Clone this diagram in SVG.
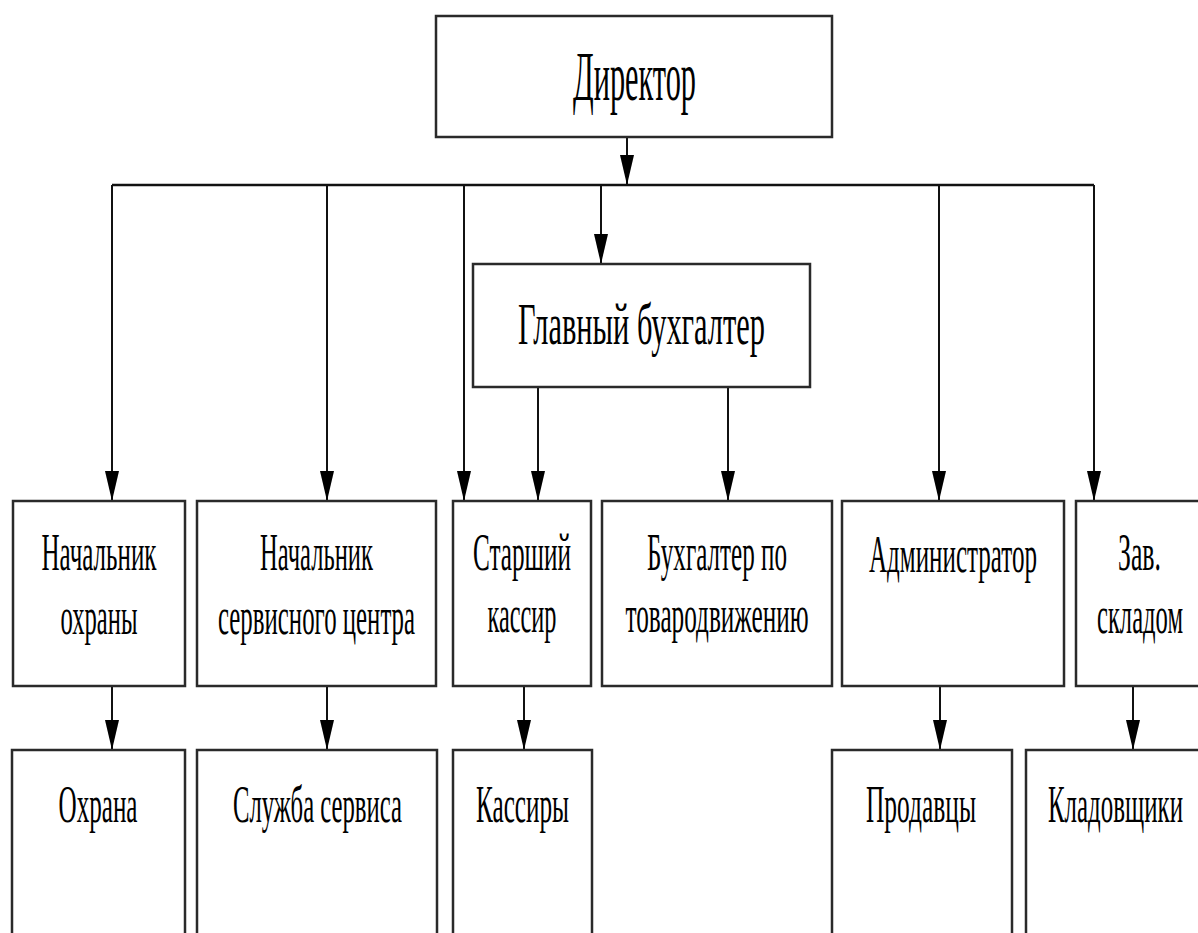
<svg xmlns="http://www.w3.org/2000/svg" width="1198" height="933" viewBox="0 0 1198 933">
<style>
.box{fill:#fff;stroke:#2a2a2a;stroke-width:2.5}
.ln{fill:none;stroke:#111;stroke-width:2;marker-end:url(#arr)}
text{font-family:"Liberation Serif","Times New Roman",serif;fill:#000;text-anchor:middle}
.t1{font-size:70px}
.t2{font-size:59px}
.t3{font-size:53px}
</style>
<defs>
<marker id="arr" markerUnits="userSpaceOnUse" markerWidth="30" markerHeight="14" refX="30" refY="7" orient="auto">
<path d="M0,0 L30,7 L0,14 z" fill="#000"/>
</marker>
</defs>
<rect width="1198" height="933" fill="#fff"/>
<g id="connectors">
<path class="ln" d="M627,137 V185"/>
<path d="M112,185 H1094" fill="none" stroke="#111" stroke-width="2.5"/>
<path class="ln" d="M112,185 V501"/>
<path class="ln" d="M327,185 V501"/>
<path class="ln" d="M464,185 V501"/>
<path class="ln" d="M601,185 V264"/>
<path class="ln" d="M939,185 V501"/>
<path class="ln" d="M1094,185 V501"/>
<path class="ln" d="M538,387 V501"/>
<path class="ln" d="M728,387 V501"/>
<path class="ln" d="M112,686 V750"/>
<path class="ln" d="M327,686 V750"/>
<path class="ln" d="M524,686 V750"/>
<path class="ln" d="M940,686 V750"/>
<path class="ln" d="M1133,686 V750"/>
</g>
<g id="director"><rect class="box" x="436" y="16" width="396" height="121"/><text class="t1" transform="scale(0.5,1)" x="1269" y="100" textLength="246" lengthAdjust="spacingAndGlyphs">Директор</text></g>
<g id="chief-accountant"><rect class="box" x="473" y="264" width="337" height="123"/><text class="t2" transform="scale(0.5,1)" x="1283" y="344" textLength="494" lengthAdjust="spacingAndGlyphs">Главный бухгалтер</text></g>
<g id="security-head"><rect class="box" x="13" y="501" width="172" height="185"/><text class="t3" transform="scale(0.5,1)" x="198" y="570" textLength="230" lengthAdjust="spacingAndGlyphs">Начальник</text><text class="t3" transform="scale(0.5,1)" x="198" y="634" textLength="154" lengthAdjust="spacingAndGlyphs">охраны</text></g>
<g id="service-head"><rect class="box" x="197" y="501" width="239" height="185"/><text class="t3" transform="scale(0.5,1)" x="633" y="570" textLength="226" lengthAdjust="spacingAndGlyphs">Начальник</text><text class="t3" transform="scale(0.5,1)" x="633" y="634" textLength="394" lengthAdjust="spacingAndGlyphs">сервисного центра</text></g>
<g id="senior-cashier"><rect class="box" x="453" y="501" width="138" height="185"/><text class="t3" transform="scale(0.5,1)" x="1044" y="570" textLength="196" lengthAdjust="spacingAndGlyphs">Старший</text><text class="t3" transform="scale(0.5,1)" x="1044" y="632" textLength="138" lengthAdjust="spacingAndGlyphs">кассир</text></g>
<g id="goods-accountant"><rect class="box" x="602" y="501" width="230" height="185"/><text class="t3" transform="scale(0.5,1)" x="1434" y="570" textLength="280" lengthAdjust="spacingAndGlyphs">Бухгалтер по</text><text class="t3" transform="scale(0.5,1)" x="1434" y="632" textLength="366" lengthAdjust="spacingAndGlyphs">товародвижению</text></g>
<g id="administrator"><rect class="box" x="842" y="501" width="222" height="185"/><text class="t3" transform="scale(0.5,1)" x="1906" y="572" textLength="336" lengthAdjust="spacingAndGlyphs">Администратор</text></g>
<g id="warehouse-head"><rect class="box" x="1076" y="501" width="134" height="185"/><text class="t3" transform="scale(0.5,1)" x="2279" y="570" textLength="86" lengthAdjust="spacingAndGlyphs">Зав.</text><text class="t3" transform="scale(0.5,1)" x="2280" y="633" textLength="172" lengthAdjust="spacingAndGlyphs">складом</text></g>
<g id="security"><rect class="box" x="12" y="750" width="173" height="200"/><text class="t3" transform="scale(0.5,1)" x="196" y="822" textLength="158" lengthAdjust="spacingAndGlyphs">Охрана</text></g>
<g id="service"><rect class="box" x="197" y="750" width="240" height="200"/><text class="t3" transform="scale(0.5,1)" x="635" y="822" textLength="338" lengthAdjust="spacingAndGlyphs">Служба сервиса</text></g>
<g id="cashiers"><rect class="box" x="453" y="750" width="139" height="200"/><text class="t3" transform="scale(0.5,1)" x="1045" y="822" textLength="186" lengthAdjust="spacingAndGlyphs">Кассиры</text></g>
<g id="sellers"><rect class="box" x="832" y="750" width="180" height="200"/><text class="t3" transform="scale(0.5,1)" x="1842" y="822" textLength="220" lengthAdjust="spacingAndGlyphs">Продавцы</text></g>
<g id="storekeepers"><rect class="box" x="1026" y="750" width="184" height="200"/><text class="t3" transform="scale(0.5,1)" x="2231" y="822" textLength="270" lengthAdjust="spacingAndGlyphs">Кладовщики</text></g>
</svg>
